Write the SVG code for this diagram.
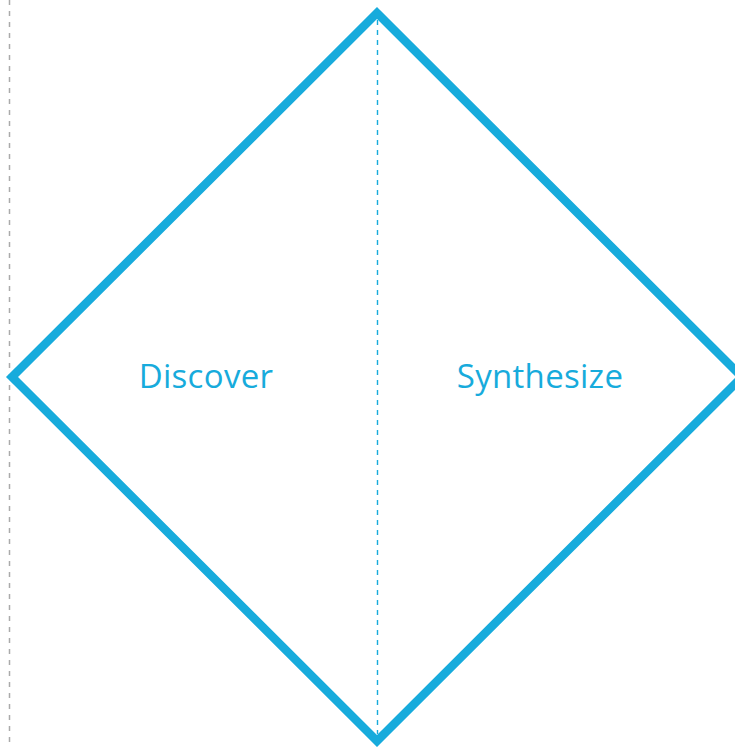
<svg xmlns="http://www.w3.org/2000/svg" width="735" height="748" viewBox="0 0 735 748">
<style>
.lbl{font-family:"Open Sans","Liberation Sans",sans-serif;font-size:33px;fill:#17abdc;text-anchor:middle;letter-spacing:0.3px}
</style>
<rect width="735" height="748" fill="#fff"/>
<g id="connectors">
<line x1="9.5" y1="0" x2="9.5" y2="748" stroke="#aaaaaa" stroke-width="1.5" stroke-dasharray="5,6"/>
<line x1="377.5" y1="20" x2="377.5" y2="734" stroke="#17abdc" stroke-width="1.4" stroke-dasharray="5,5"/>
</g>
<g id="diamond">
<polygon points="377,13 742,377 377,741 12,377" fill="none" stroke="#17abdc" stroke-width="8.5" stroke-linejoin="miter"/>
</g>
<g id="discover"><text class="lbl" x="206" y="388">Discover</text></g>
<g id="synthesize"><text class="lbl" x="540" y="388">Synthesize</text></g>
</svg>
